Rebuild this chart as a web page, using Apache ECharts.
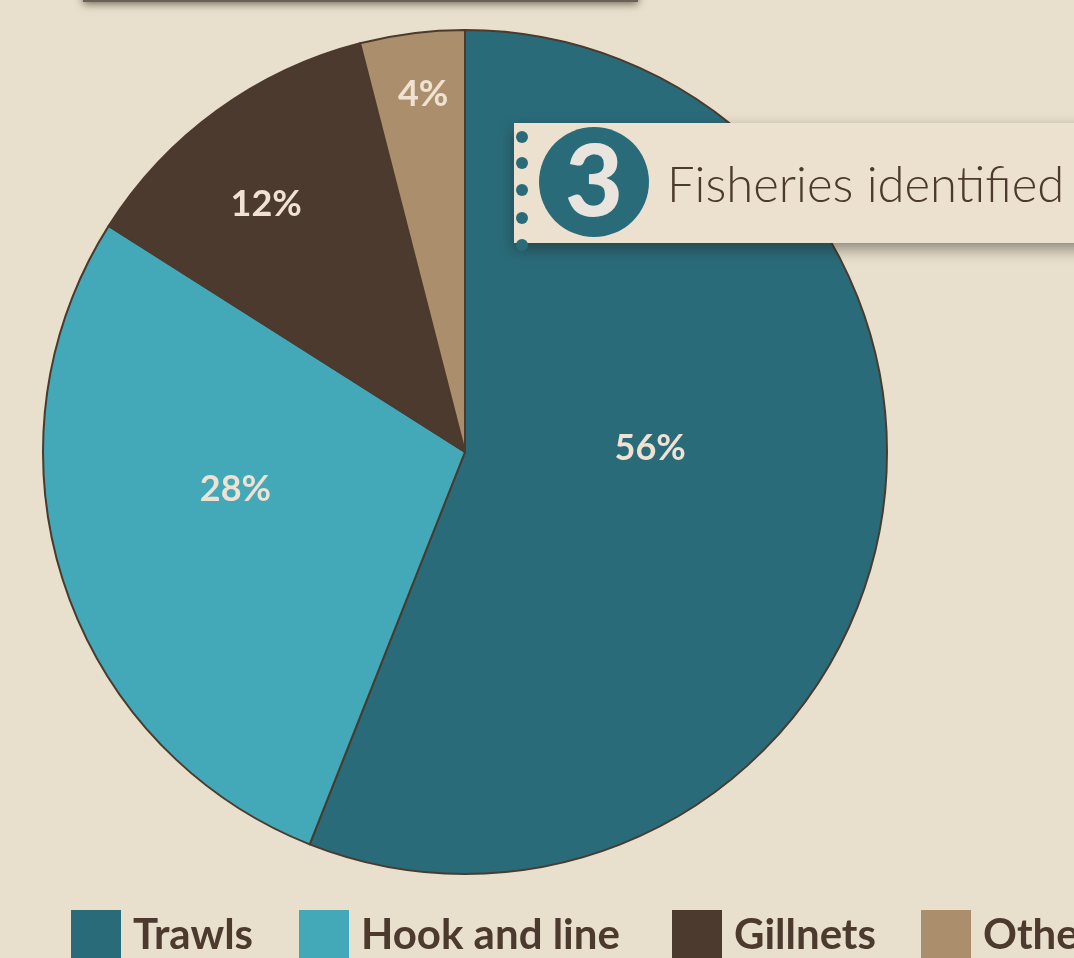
<!DOCTYPE html>
<html>
<head>
<meta charset="utf-8">
<script src="https://cdn.jsdelivr.net/npm/echarts@6/dist/echarts.min.js"></script>
<style>
  html, body { margin: 0; padding: 0; background: #e8dfcc; }
  #chart { width: 1074px; height: 958px; }
</style>
</head>
<body>
<div id="chart"></div>
<script>
// fishing gear share, clockwise from 12 o'clock
var gears = ['Trawls', 'Hook and line', 'Gillnets', 'Other']
var shares = [56, 28, 12, 4]
var gearColors = ['#2a6b7a', '#43a8b7', '#4b3a2d', '#ab8f6d']
// nudges so labels sit where the original put them
var labelOffsets = [[-25, -44], [-26, -29], [-73, -74], [-15, -145]]
var legendLeft = [66, 294, 667, 916]
var noteCount = '3'
var noteText = 'Fisheries identified'

var chart = echarts.init(document.getElementById('chart'))

var pieData = gears.map(function (g, i) {
  return {
    name: g,
    value: shares[i],
    itemStyle: { color: gearColors[i] },
    label: { offset: labelOffsets[i] }
  }
})

var legends = gears.map(function (g, i) {
  return {
    data: [g],
    left: legendLeft[i],
    top: 905,
    orient: 'horizontal',
    icon: 'rect',
    itemWidth: 50,
    itemHeight: 50,
    itemStyle: { borderWidth: 0 },
    selectedMode: false,
    textStyle: {
      fontFamily: 'Lato',
      fontWeight: 'bold',
      fontSize: 42,
      color: '#4b3a2d',
      padding: [28, 0, 0, 7]
    }
  }
})

// holes along the torn edge of the note
var holes = [137, 163, 190, 218, 245].map(function (y) {
  return {
    type: 'circle',
    shape: { cx: 522, cy: y, r: 6 },
    style: { fill: '#2a6b7a' },
    z: 102
  }
})

chart.setOption({
  backgroundColor: '#e8dfcc',
  animation: false,
  legend: legends,
  series: [{
    type: 'pie',
    center: [465, 452],
    radius: 422,
    startAngle: 90,
    clockwise: true,
    silent: true,
    data: pieData,
    itemStyle: {
      borderColor: '#4b3a2d',
      borderWidth: 2
    },
    label: {
      show: true,
      position: 'inside',
      formatter: '{c}%',
      fontFamily: 'Lato',
      fontWeight: 'bold',
      fontSize: 36,
      color: '#efe2d2'
    },
    labelLine: { show: false }
  }],
  graphic: [
    // bottom of the title box above the view
    {
      type: 'rect',
      shape: { x: 83, y: -60, width: 555, height: 62 },
      style: {
        fill: '#6a6157',
        shadowBlur: 8,
        shadowOffsetY: 2,
        shadowColor: 'rgba(40,30,20,0.6)'
      },
      z: 100
    },
    // note strip
    {
      type: 'rect',
      shape: { x: 514, y: 123, width: 600, height: 120 },
      style: {
        fill: '#ece0cf',
        shadowBlur: 14,
        shadowOffsetY: 6,
        shadowColor: 'rgba(30,25,20,0.45)'
      },
      z: 101
    },
    {
      type: 'circle',
      shape: { cx: 594, cy: 182, r: 55 },
      style: { fill: '#2a6b7a' },
      z: 102
    },
    {
      type: 'text',
      x: 594,
      y: 184,
      style: {
        text: noteCount,
        fontFamily: 'Lato',
        fontWeight: 900,
        fontSize: 100,
        fill: '#e9e4dd',
        align: 'center',
        verticalAlign: 'middle'
      },
      z: 103
    },
    {
      type: 'text',
      x: 667,
      y: 186,
      style: {
        text: noteText,
        fontFamily: 'Lato',
        fontWeight: 300,
        fontSize: 49,
        fill: '#4b3a2d',
        align: 'left',
        verticalAlign: 'middle'
      },
      z: 103
    }
  ].concat(holes)
})
</script>
</body>
</html>
